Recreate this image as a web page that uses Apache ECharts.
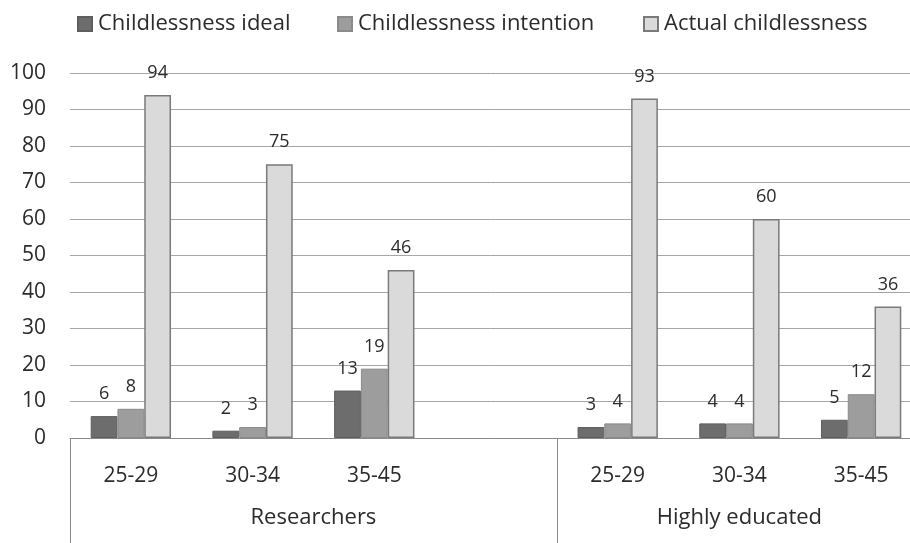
<!DOCTYPE html>
<html>
<head>
<meta charset="utf-8">
<script src="https://cdn.jsdelivr.net/npm/echarts@6/dist/echarts.min.js"></script>
<style>
html,body{margin:0;padding:0;background:#fff;}
#chart{width:910px;height:543px;}
</style>
</head>
<body>
<div id="chart"></div>
<script>
const categories = ['25-29', '30-34', '35-45', '', '25-29', '30-34', '35-45'];
const groupLabels = ['Researchers', 'Highly educated'];
const groupCenters = [2, 5.5];
const groupBoundaries = [0, 4];
const seriesNames = ['Childlessness ideal', 'Childlessness intention', 'Actual childlessness'];
const idealValues = [6, 2, 13, null, 3, 4, 5];
const intentionValues = [8, 3, 19, null, 4, 4, 12];
const actualValues = [94, 75, 46, null, 93, 60, 36];
const yTicks = [0, 10, 20, 30, 40, 50, 60, 70, 80, 90, 100];

const FONT = 'Open Sans';
const TEXT = '#2b2b2b';
const chart = echarts.init(document.getElementById('chart'), null, {renderer: 'canvas'});

const labelCfg = {
  show: true, position: 'top', distance: 13,
  color: TEXT, fontFamily: FONT, fontSize: 18
};

const legendLefts = [72, 332, 638];
const legends = seriesNames.map(function (n, i) {
  return {
    top: 8, left: legendLefts[i],
    itemWidth: 14, itemHeight: 14, itemGap: 0,
    icon: 'rect',
    textStyle: {fontFamily: FONT, fontSize: 22, color: TEXT, padding: [0, 0, 0, 1]},
    data: [n]
  };
});

chart.setOption({
  animation: false,
  backgroundColor: '#ffffff',
  textStyle: {fontFamily: FONT},
  legend: legends,
  grid: {left: 70, top: 73, width: 852, bottom: 105, containLabel: false, outerBoundsMode: 'none'},
  xAxis: [
    {
      type: 'category',
      data: categories,
      position: 'bottom',
      axisLine: {show: true, lineStyle: {color: '#8a8a8a', width: 1}},
      axisTick: {
        show: true, length: 105,
        interval: function (idx) { return groupBoundaries.indexOf(idx) >= 0; },
        lineStyle: {color: '#8a8a8a', width: 1}
      },
      axisLabel: {
        margin: 28, color: TEXT, fontFamily: FONT, fontSize: 21, interval: 0
      },
      splitLine: {show: false}
    },
    {
      type: 'value',
      position: 'bottom',
      min: 0, max: 7, interval: 0.5,
      axisLine: {show: false},
      axisTick: {show: false},
      splitLine: {show: false},
      axisLabel: {
        margin: 69, color: TEXT, fontFamily: FONT, fontSize: 22,
        showMinLabel: true, showMaxLabel: true,
        formatter: function (v) {
          const i = groupCenters.indexOf(v);
          return i >= 0 ? groupLabels[i] : '';
        }
      }
    }
  ],
  yAxis: {
    type: 'value',
    min: yTicks[0], max: yTicks[yTicks.length - 1], interval: 10,
    axisLine: {show: false},
    axisTick: {show: false},
    axisLabel: {margin: 24, color: TEXT, fontFamily: FONT, fontSize: 21},
    splitLine: {show: true, lineStyle: {color: '#a6a6a6', width: 1}}
  },
  series: [
    {
      name: seriesNames[0], type: 'bar', data: idealValues,
      barGap: '0%', barCategoryGap: '34%',
      itemStyle: {color: '#6d6d6d', borderColor: '#5e5e5e', borderWidth: 1},
      label: labelCfg
    },
    {
      name: seriesNames[1], type: 'bar', data: intentionValues,
      barGap: '0%', barCategoryGap: '34%',
      itemStyle: {color: '#9d9d9d', borderColor: '#8a8a8a', borderWidth: 1},
      label: labelCfg
    },
    {
      name: seriesNames[2], type: 'bar', data: actualValues,
      barGap: '0%', barCategoryGap: '34%',
      itemStyle: {color: '#dadada', borderColor: '#7a7a7a', borderWidth: 1.5},
      label: labelCfg
    }
  ]
});
</script>
</body>
</html>
